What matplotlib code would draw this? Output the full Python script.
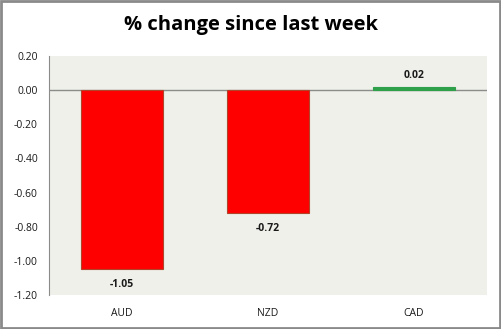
import matplotlib.pyplot as plt
from matplotlib.patches import Rectangle

currencies = ["AUD", "NZD", "CAD"]
changes = [-1.05, -0.72, 0.02]
bar_colors = ["#ff0000", "#ff0000", "#2ea04a"]
edge_colors = ["#b0442a", "#b0442a", "#2ea04a"]
yticks = [0.20, 0.00, -0.20, -0.40, -0.60, -0.80, -1.00, -1.20]

plt.rcParams['font.family'] = ['Open Sans', 'DejaVu Sans']

fig = plt.figure(figsize=(5.02, 3.29), dpi=100)
W, H = 502, 329
ax = fig.add_axes([49 / W, 1 - 295 / H, (487 - 49) / W, (295 - 56) / H])
ax.set_facecolor("#eef0e9")

x = range(len(currencies))
ax.bar(x, changes, width=0.56, color=bar_colors, edgecolor=edge_colors, linewidth=0.8, zorder=3)
ax.axhline(0, color="#8c8c8c", linewidth=1.0, zorder=2)

for xi, v in zip(x, changes):
    if v < 0:
        ax.annotate(f"{v:.2f}", (xi, v), xytext=(0, -7), textcoords="offset points",
                    ha="center", va="top", fontsize=7.5, fontweight="bold", color="#1a1a1a")
    else:
        ax.annotate(f"{v:.2f}", (xi, v), xytext=(0, 4), textcoords="offset points",
                    ha="center", va="bottom", fontsize=7.5, fontweight="bold", color="#1a1a1a")

ax.set_xlim(-0.5, len(currencies) - 0.5)
ax.set_ylim(-1.2, 0.2)
ax.set_yticks(yticks)
ax.set_yticklabels([f"{t:.2f}" for t in yticks], fontsize=7.5, color="#1a1a1a")
ax.set_xticks(list(x))
ax.set_xticklabels(currencies, fontsize=7.5, color="#1a1a1a")
ax.tick_params(axis="both", length=0, pad=8)
ax.tick_params(axis="x", pad=9)
for side in ["top", "right", "bottom"]:
    ax.spines[side].set_visible(False)
ax.spines["left"].set_color("#8c8c8c")
ax.spines["left"].set_linewidth(0.8)

fig.text(0.5, 1 - 25 / H, "% change since last week", ha="center", va="center",
         fontsize=14.5, fontweight="bold", color="#000000")

fig.patches.append(Rectangle((0.002, 0.004), 0.994, 0.992, transform=fig.transFigure,
                             fill=False, edgecolor="#8a8a8a", linewidth=2.0))

fig.savefig("out.png", dpi=100)
